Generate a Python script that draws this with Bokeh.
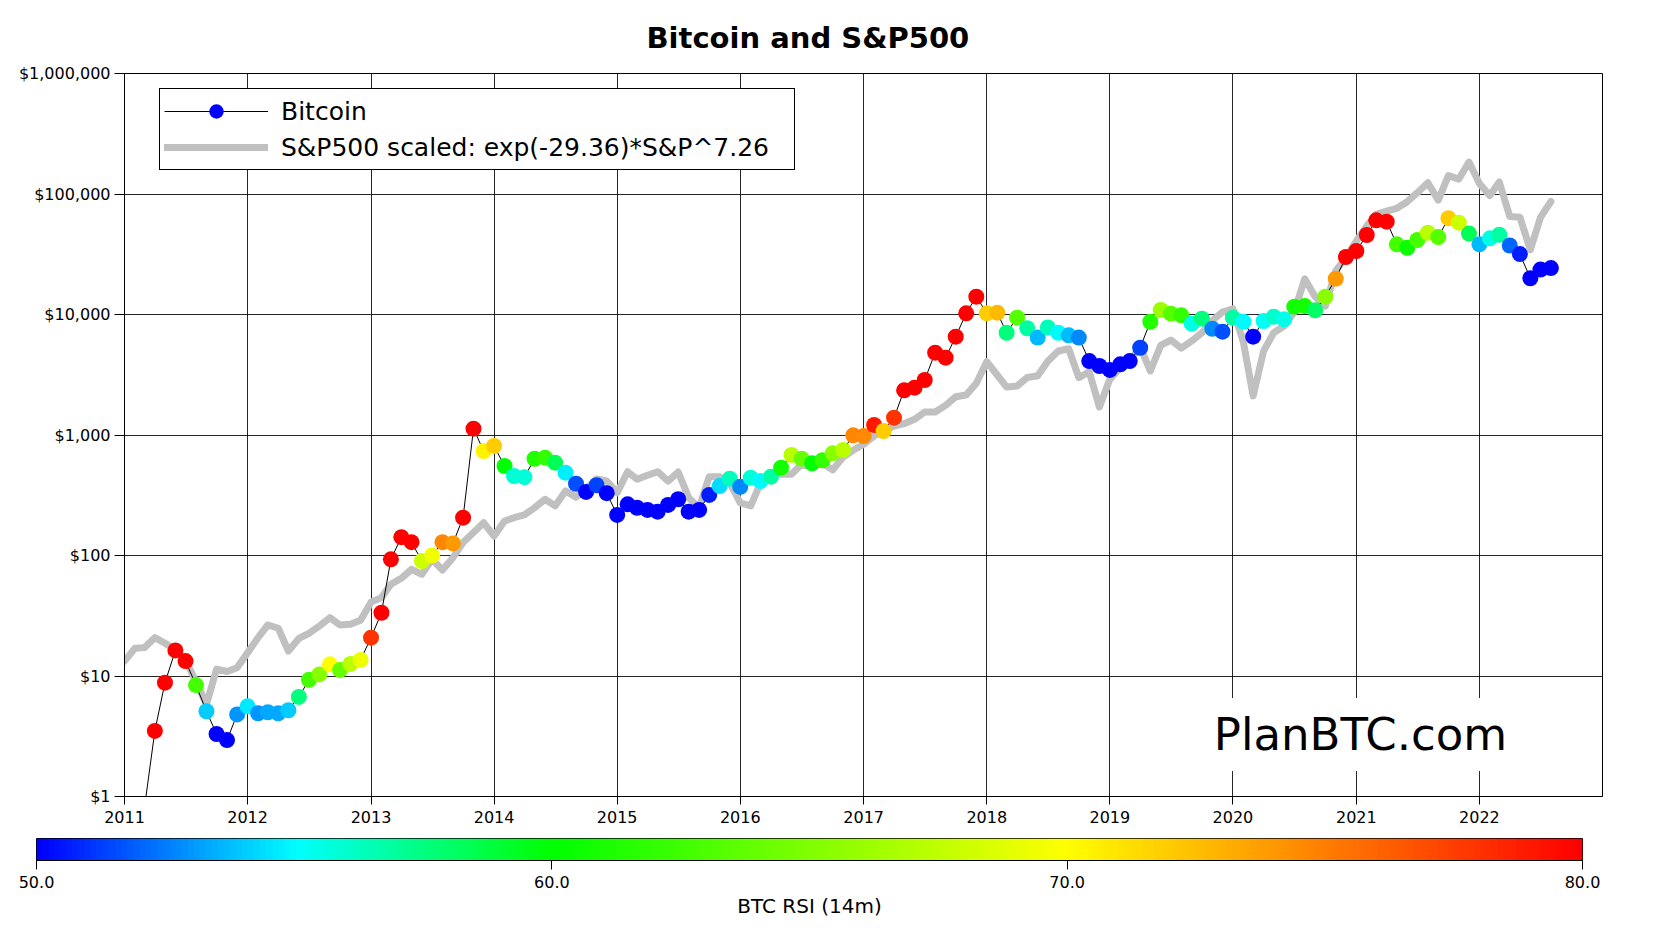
import numpy as np
import pandas as pd
from bokeh.embed import file_html
from bokeh.models import (ColumnDataSource, DatetimeTickFormatter, FixedTicker, Label,
                          Legend, LegendItem, LinearColorMapper, NumeralTickFormatter,
                          PrintfTickFormatter, Range1d)
from bokeh.plotting import figure
from bokeh.resources import INLINE

FONT = "DejaVu Sans"

# Bitcoin monthly price, first month (Mar 2011) sits below the chart
btc_start = "2011-03-01"
btc_price = [0.8,
             3.5, 8.8, 16.3, 13.3, 8.4, 5.1, 3.3, 2.94, 4.8,
             5.6, 4.9, 5.0, 4.9, 5.2, 6.7, 9.3, 10.3, 12.5, 11.2, 12.6, 13.6,
             20.8, 33.5, 93, 142, 129, 90, 100, 129, 126, 206, 1128, 736,
             811, 553, 457, 447, 635, 648, 589, 487, 394, 337, 383, 329,
             217, 266, 249, 239, 231, 263, 293, 231, 239, 318, 377, 434,
             372, 442, 415, 451, 536, 683, 636, 582, 617, 705, 751, 994,
             981, 1211, 1079, 1393, 2349, 2470, 2861, 4820, 4380, 6550, 10230, 14060,
             10230, 10360, 7060, 9420, 7690, 6430, 7810, 7060, 6720, 6430, 4110, 3740,
             3465, 3860, 4110, 5300, 8710, 10900, 10160, 9840, 8390, 9230, 7620, 7200,
             9420, 8710, 6550, 8830, 9590, 9120, 11610, 11750, 10840, 14060, 19830, 30000,
             33650, 45700, 60500, 58900, 38200, 35800, 41500, 47700, 43900, 62900, 57800, 46900,
             38200, 42900, 45900, 37400, 31700, 20000, 23600, 24300]

# BTC RSI (14 months), same months as btc_price
btc_rsi = [60,
           84, 88, 90, 85, 62.7, 54, 49, 48, 53,
           54.6, 53, 53.3, 53.3, 54, 57.6, 62.7, 65.3, 70, 64, 67.3, 69.3,
           78, 82, 88, 89, 86, 68, 69.5, 74.7, 74, 81, 90, 70.5,
           72, 60, 55.8, 55.8, 61.3, 62, 58.4, 54.8, 51.6, 49.5, 51.3, 50,
           47, 49, 48.5, 48, 47.5, 48.5, 49.5, 47.5, 48, 50.6, 54.4, 56.4,
           52.7, 55.8, 55, 56.9, 60.7, 67.3, 64, 60, 62, 65.3, 67.3, 74.7,
           74.5, 79, 72, 78, 83, 82, 83, 86, 84, 86, 89, 91,
           72, 72.7, 57.6, 63.3, 56.9, 53.7, 56.4, 55, 53.7, 52.7, 49, 48,
           47.5, 48.5, 49, 51.3, 61.3, 66, 63.3, 62, 55.6, 57.6, 52.7, 51.6,
           56.9, 55, 49.5, 55.2, 56, 55.4, 60.7, 60.7, 58, 65.3, 74, 81,
           83, 85, 86, 84, 62.7, 60.5, 62.7, 67.3, 63.3, 72, 68, 58.4,
           53.7, 55.6, 56.9, 52, 50.6, 48, 49, 49]

# S&P500 scaled, monthly from Jan 2011
sp_start = "2011-01-01"
sp_scaled = [13.3, 17.0, 17.2, 20.8, 18.7, 16.5, 13.5, 9.0, 5.8, 11.4, 10.9, 11.7,
             15.6, 20.8, 26.5, 24.9, 16.1, 20.5, 22.6, 26.0, 30.5, 26.5, 26.9, 29.0,
             41, 44.7, 57.7, 64.7, 76.8, 69.8, 93, 75.8, 96, 128, 155, 187,
             145, 193, 206, 217, 249, 293, 258, 343, 305, 360, 432, 415,
             332, 496, 429, 463, 496, 415, 493, 302, 249, 451, 451, 400,
             274, 258, 398, 472, 472, 472, 571, 553, 582, 513, 657, 746,
             837, 981, 1079, 1188, 1241, 1350, 1552, 1552, 1763, 2078, 2147, 2687,
             4055, 3148, 2500, 2550, 3000, 3100, 4100, 4980, 5200, 2990, 3350, 1710,
             2900, 3600, 4100, 5400, 3400, 5550, 6140, 5250, 6030, 7060, 8900, 10480,
             11170, 5900, 2110, 4980, 7060, 8030, 10480, 19800, 14060, 11750, 23000, 29600,
             40700, 54200, 67700, 72200, 76100, 86300, 102500, 124000, 89000, 142000, 133000, 184000,
             122000, 97000, 126000, 65100, 64200, 34500, 63900, 86700]

year_ticks = list(range(2011, 2023))
price_ticks = [1, 10, 100, 1000, 10000, 100000, 1000000]
rsi_ticks = [50, 60, 70, 80]

# colour scale: blue -> cyan -> green -> yellow -> red over RSI 50..80
cmap_stops = [50, 55, 60, 70, 80]
cmap_rgb = [(0, 0, 255), (0, 255, 255), (0, 255, 0), (255, 255, 0), (255, 0, 0)]
levels = np.linspace(50, 80, 256)
chan = [np.interp(levels, cmap_stops, [c[k] for c in cmap_rgb]) for k in range(3)]
palette = ["#%02x%02x%02x" % (int(r), int(g), int(b)) for r, g, b in zip(*chan)]
mapper = LinearColorMapper(palette=palette, low=50, high=80)

btc = ColumnDataSource(dict(
    date=pd.date_range(btc_start, periods=len(btc_price), freq="MS"),
    price=btc_price, rsi=btc_rsi))
sp = ColumnDataSource(dict(
    date=pd.date_range(sp_start, periods=len(sp_scaled), freq="MS"),
    value=sp_scaled))

p = figure(width=1628, height=836, x_axis_type="datetime", y_axis_type="log",
           x_range=Range1d(pd.Timestamp("2011-01-01"), pd.Timestamp("2023-01-01")),
           y_range=Range1d(1, 1e6),
           output_backend="svg", toolbar_location=None,
           min_border_left=124, min_border_right=26, min_border_top=72, min_border_bottom=40)

p.title.text = "Bitcoin and S&P500"
p.title.align = "left"
p.title.offset = 522
p.title.standoff = 37
p.title.text_font = FONT
p.title.text_font_size = "29px"
p.title.text_font_style = "bold"
p.title.text_color = "black"

sp_line = p.line("date", "value", source=sp, line_color="#c0c0c0", line_width=7,
                 line_join="round", line_cap="round")
btc_line = p.line("date", "price", source=btc, line_color="black", line_width=1)
btc_dots = p.scatter("date", "price", source=btc, size=16, line_color=None,
                     fill_color={"field": "rsi", "transform": mapper})

p.xaxis.ticker = FixedTicker(ticks=[pd.Timestamp(f"{y}-01-01").value // 10**6 for y in year_ticks])
p.xaxis.formatter = DatetimeTickFormatter(years="%Y", months="%Y", days="%Y")
p.yaxis.ticker = FixedTicker(ticks=price_ticks)
p.yaxis.formatter = NumeralTickFormatter(format="$0,0")

p.axis.major_label_text_font = FONT
p.axis.major_label_text_font_size = "16px"
p.axis.major_label_text_color = "black"
p.axis.major_tick_in = 0
p.axis.minor_tick_line_color = None
p.axis.axis_line_color = "black"
p.axis.major_tick_line_color = "black"
p.xaxis.major_tick_out = 8
p.yaxis.major_tick_out = 10
p.xaxis.major_label_standoff = 6
p.yaxis.major_label_standoff = 4

p.grid.grid_line_color = "black"
p.grid.grid_line_alpha = 0.85
p.outline_line_color = "black"
p.outline_line_alpha = 1

legend = Legend(items=[
    LegendItem(label="Bitcoin", renderers=[btc_line, btc_dots], index=7),
    LegendItem(label="S&P500 scaled: exp(-29.36)*S&P^7.26", renderers=[sp_line]),
], location=(35, 626))
legend.label_text_font = FONT
legend.label_text_font_size = "25px"
legend.label_text_color = "black"
legend.glyph_width = 104
legend.glyph_height = 36
legend.label_height = 24
legend.label_width = 509
legend.label_standoff = 13
legend.padding = 4
legend.spacing = 0
legend.margin = 0
legend.border_line_color = "black"
legend.border_line_width = 1
legend.border_line_alpha = 1
legend.background_fill_alpha = 1
p.add_layout(legend)

p.add_layout(Label(x=1236, y=62, x_units="screen", y_units="screen", text="PlanBTC.com",
                   text_align="center", text_baseline="middle", text_font=FONT,
                   text_font_size="45px", text_color="black",
                   background_fill_color="white", padding=10))

# colour bar as its own strip
cb = figure(width=1628, height=95, x_range=Range1d(50, 80), y_range=Range1d(0, 1),
            output_backend="svg", toolbar_location=None, y_axis_location=None,
            min_border_left=36, min_border_right=46, min_border_top=2, min_border_bottom=71)
cb.image(image=[levels.reshape(1, -1)], x=50, y=0, dw=30, dh=1, color_mapper=mapper)
cb.grid.visible = False
cb.outline_line_color = "black"
cb.outline_line_alpha = 1
cb.xaxis.ticker = FixedTicker(ticks=rsi_ticks)
cb.xaxis.formatter = PrintfTickFormatter(format="%.1f")
cb.xaxis.axis_label = "BTC RSI (14m)"
cb.xaxis.axis_label_text_font = FONT
cb.xaxis.axis_label_text_font_size = "20px"
cb.xaxis.axis_label_text_font_style = "normal"
cb.xaxis.axis_label_text_color = "black"
cb.xaxis.axis_label_standoff = 3
cb.xaxis.major_label_text_font = FONT
cb.xaxis.major_label_text_font_size = "16px"
cb.xaxis.major_label_text_color = "black"
cb.xaxis.major_label_standoff = 6
cb.xaxis.major_tick_out = 9
cb.xaxis.major_tick_in = 0
cb.xaxis.minor_tick_line_color = None
cb.xaxis.axis_line_color = "black"

open("out.html", "w").write(file_html([p, cb], INLINE))
